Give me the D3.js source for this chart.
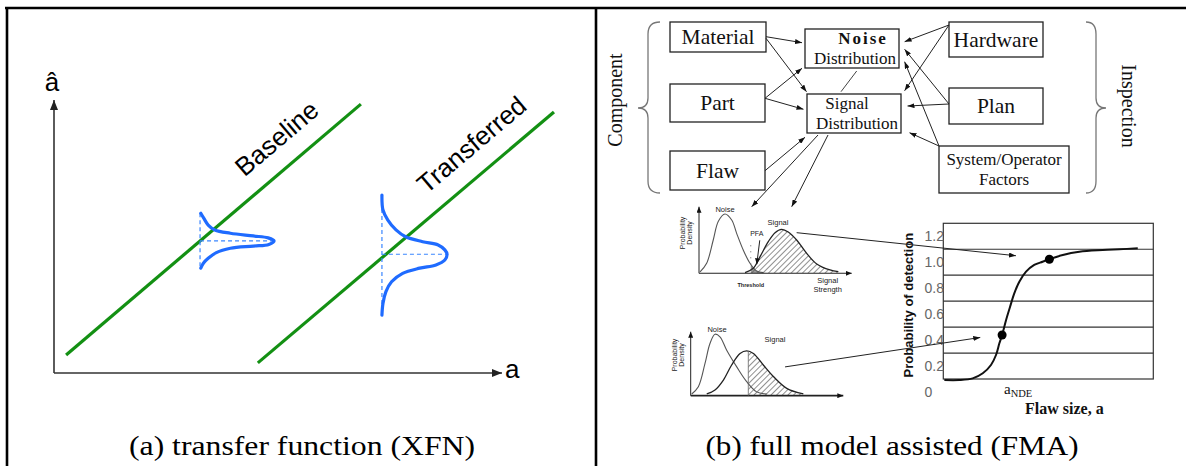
<!DOCTYPE html>
<html>
<head>
<meta charset="utf-8">
<script src="https://cdn.jsdelivr.net/npm/d3@7"></script>
<style>
  body { margin: 0; background: #fff; }
  svg { display: block; }
</style>
</head>
<body>
<svg id="fig" width="1186" height="466"></svg>
<script>
// ---------- data ----------
// (a) transfer function, a vs a-hat in arbitrary units
const baselineLine = [[2.7, 6.6], [68.5, 98.5]];
const transferredLine = [[45.5, 3.7], [111.6, 95.6]];
// response scatter around each line: [a-hat, relative density]
const baselineCenter = [32.6, 48.4];
const baselineDist = [[58.5,0.01],[56.7,0.05],[54.2,0.11],[52.4,0.2],[51.2,0.41],[50.2,0.72],[49.5,0.92],[48.4,1.0],
  [47.1,0.93],[46.5,0.72],[45.7,0.41],[44.1,0.22],[42.0,0.11],[40.2,0.045],[38.4,0.01]];
const transferredCenter = [73.2, 43.5];
const transferredDist = [[65.2,0],[59.7,0.014],[56.0,0.08],[52.4,0.19],[49.9,0.32],[48.1,0.55],[46.9,0.76],[45.1,0.85],
  [43.5,0.88],[41.4,0.85],[39.6,0.73],[38.4,0.51],[36.5,0.28],[33.4,0.13],[29.8,0.054],[25.5,0.014],[21.2,0]];

// (b) full model assisted
const componentFactors = ['Material', 'Part', 'Flaw'];
const inspectionFactors = ['Hardware', 'Plan', 'System/Operator|Factors'];
const distNodes = ['Noise|Distribution', 'Signal|Distribution'];

// signal strength vs probability density
const noiseTop = [[0.07,0.02],[0.51,0.15],[0.95,0.5],[1.29,0.78],[1.73,0.89],[2.18,0.8],[2.51,0.6],[2.95,0.35],[3.4,0.15],[3.84,0.035],[4.29,0.01]];
const signalTop = [[3.07,0.01],[3.62,0.075],[4.07,0.25],[4.62,0.475],[5.07,0.61],[5.51,0.66],[5.95,0.62],[6.51,0.5],[7.18,0.3],[7.85,0.14],[8.73,0.05],[9.29,0.025]];
const thresholdTop = 3.45;
const noiseBottom = [[0.07,0.027],[0.51,0.14],[0.95,0.5],[1.29,0.82],[1.62,0.96],[1.95,0.92],[2.4,0.71],[3.07,0.45],[3.73,0.22],[4.4,0.06],[5.07,0.027]];
const signalBottom = [[1.07,0.027],[1.62,0.09],[2.18,0.245],[2.73,0.48],[3.29,0.66],[3.73,0.7],[4.18,0.66],[4.84,0.48],[5.51,0.3],[6.4,0.115],[7.51,0.027]];
const thresholdBottom = 3.84;

// POD curve: flaw size vs probability of detection
const podCurve = [[0.05,0.092],[0.76,0.092],[1.40,0.105],[1.88,0.144],[2.27,0.208],[2.51,0.285],[2.67,0.375],[2.80,0.439],
  [2.99,0.555],[3.18,0.657],[3.38,0.76],[3.62,0.85],[3.94,0.927],[4.33,0.979],[4.73,1.004],[5.05,1.023],[5.69,1.056],
  [6.48,1.081],[7.59,1.094],[8.38,1.1],[9.26,1.107]];
const podMarks = [[2.80,0.439],[5.05,1.023]];
const podTicks = [0, 0.2, 0.4, 0.6, 0.8, 1.0, 1.2];
const podGrid = [0.3, 0.5, 0.7, 0.9, 1.1];

// ---------- setup ----------
const serif = '"Liberation Serif","Times New Roman",serif';
const sans = '"Liberation Sans",Arial,sans-serif';
const svg = d3.select('#fig');
const defs = svg.append('defs');

function marker(id, w, h, color) {
  defs.append('marker').attr('id', id)
    .attr('viewBox', `0 0 ${w} ${h}`).attr('refX', w).attr('refY', h / 2)
    .attr('markerWidth', w).attr('markerHeight', h)
    .attr('markerUnits', 'userSpaceOnUse').attr('orient', 'auto')
    .append('path').attr('d', `M0,0L${w},${h / 2}L0,${h}Z`).attr('fill', color);
}
marker('arrAxis', 10, 8, '#222');
marker('arrFlow', 7, 5, '#111');
marker('arrTiny', 6, 5, '#111');

const hatch = defs.append('pattern').attr('id', 'hatch')
  .attr('width', 4).attr('height', 4).attr('patternUnits', 'userSpaceOnUse')
  .attr('patternTransform', 'rotate(45)');
hatch.append('line').attr('x1', 0).attr('y1', 0).attr('x2', 0).attr('y2', 4)
  .attr('stroke', '#222').attr('stroke-width', 1);

function seg(g, p, q, opts = {}) {
  return g.append('line').attr('x1', p[0]).attr('y1', p[1]).attr('x2', q[0]).attr('y2', q[1])
    .attr('stroke', opts.color || '#111').attr('stroke-width', opts.w || 1)
    .attr('marker-end', opts.marker ? `url(#${opts.marker})` : null)
    .attr('stroke-dasharray', opts.dash || null);
}

// frame
const frame = svg.append('g');
seg(frame, [5, 8], [1186, 8], { color: '#000', w: 2.6 });
seg(frame, [7, 7], [7, 466], { color: '#000', w: 2.6 });
seg(frame, [596, 7], [596, 466], { color: '#000', w: 2.6 });

// ---------- (a) transfer function ----------
const gA = svg.append('g');
const xA = d3.scaleLinear().domain([0, 100]).range([54, 502]);
const yA = d3.scaleLinear().domain([0, 100]).range([373, 100]);
const densA = d3.scaleLinear().domain([0, 1]).range([0, 74]);

seg(gA, [xA(0), yA(0)], [xA(100), yA(0)], { color: '#333', w: 1.6, marker: 'arrAxis' });
seg(gA, [xA(0), yA(0)], [xA(0), yA(100)], { color: '#333', w: 1.6, marker: 'arrAxis' });
gA.append('text').attr('x', xA(100) + 3).attr('y', yA(0) + 5)
  .attr('font-family', sans).attr('font-size', 26).text('a');
gA.append('text').attr('x', xA(0) - 2).attr('y', 90.5).attr('text-anchor', 'middle')
  .attr('font-family', sans).attr('font-size', 26).text('â');

const lineA = d3.line().x(d => xA(d[0])).y(d => yA(d[1]));
const fits = [
  { name: 'Baseline', pts: baselineLine, t: 0.777 },
  { name: 'Transferred', pts: transferredLine, t: 0.784 }
];
fits.forEach(f => {
  gA.append('path').attr('d', lineA(f.pts)).attr('fill', 'none')
    .attr('stroke', '#139013').attr('stroke-width', 3.2);
  const p0 = [xA(f.pts[0][0]), yA(f.pts[0][1])], p1 = [xA(f.pts[1][0]), yA(f.pts[1][1])];
  const ang = Math.atan2(p1[1] - p0[1], p1[0] - p0[0]);
  const len = Math.hypot(p1[0] - p0[0], p1[1] - p0[1]);
  const ux = Math.cos(ang), uy = Math.sin(ang);
  const cx = p0[0] + ux * len * f.t + uy * 28.5, cy = p0[1] + uy * len * f.t - ux * 28.5;
  gA.append('text').attr('transform', `translate(${cx},${cy}) rotate(${ang * 180 / Math.PI})`)
    .attr('text-anchor', 'middle').attr('dy', '0.35em')
    .attr('font-family', sans).attr('font-size', 26).text(f.name);
});

const dists = [
  { c: baselineCenter, pts: baselineDist },
  { c: transferredCenter, pts: transferredDist }
];
dists.forEach(d => {
  const x0 = xA(d.c[0]);
  const topA = d3.max(d.pts, p => p[0]), botA = d3.min(d.pts, p => p[0]);
  const peak = d3.max(d.pts, p => p[1]);
  seg(gA, [x0, yA(topA)], [x0, yA(botA)], { color: '#3a86ff', w: 1.2, dash: '4,3' });
  seg(gA, [x0, yA(d.c[1])], [x0 + densA(peak), yA(d.c[1])], { color: '#3a86ff', w: 1.2, dash: '4,3' });
  gA.append('path')
    .attr('d', d3.line().x(p => x0 + densA(p[1])).y(p => yA(p[0])).curve(d3.curveCatmullRom.alpha(0.5))(d.pts))
    .attr('fill', 'none').attr('stroke', '#1f6bff').attr('stroke-width', 3.2).attr('stroke-linecap', 'round');
});

gA.append('text').attr('x', 302).attr('y', 455).attr('text-anchor', 'middle')
  .attr('textLength', 346).attr('lengthAdjust', 'spacingAndGlyphs')
  .attr('font-family', serif).attr('font-size', 28).text('(a) transfer function (XFN)');

// ---------- (b) full model assisted ----------
const gB = svg.append('g');

// box layout [x0, y0, x1, y1]
const boxPos = {
  'Material': [670, 22, 766, 52], 'Part': [670, 84, 765, 122], 'Flaw': [670, 151, 765, 190],
  'Noise|Distribution': [805, 29, 899, 68], 'Signal|Distribution': [807, 94, 901, 133],
  'Hardware': [949, 22, 1043, 57], 'Plan': [949, 88, 1043, 124], 'System/Operator|Factors': [939, 146, 1069, 193]
};
const lineShift = { 'Noise': 11, 'Signal': -7, 'Distribution': 3 };
const fontOf = name => name.includes('|') ? 17 : 21.5;
[...componentFactors, ...distNodes, ...inspectionFactors].forEach(name => {
  const b = boxPos[name];
  gB.append('rect').attr('x', b[0]).attr('y', b[1]).attr('width', b[2] - b[0]).attr('height', b[3] - b[1])
    .attr('fill', '#fff').attr('stroke', '#222').attr('stroke-width', 1.3);
  const lines = name.split('|');
  const fs = fontOf(name);
  const cx = (b[0] + b[2]) / 2, cy = (b[1] + b[3]) / 2;
  lines.forEach((ln, i) => {
    const y = cy + (i - (lines.length - 1) / 2) * fs * 1.18 + fs * 0.33;
    const t = gB.append('text').attr('x', cx + (lineShift[ln] || 0)).attr('y', y).attr('text-anchor', 'middle')
      .attr('font-family', serif).attr('font-size', fs).attr('fill', '#111').text(ln);
    if (ln === 'Noise') t.attr('font-weight', 'bold').attr('letter-spacing', 2);
  });
});

// influence links (from-point, to-point)
const links = [
  [[766, 36.7], [802, 42.7]], [[766, 38.3], [806.5, 91.7]],
  [[765, 98.3], [802, 68.3]], [[765, 98.3], [803.5, 109.3]],
  [[765, 170.7], [805, 137.3]],
  [[949, 25], [904.6, 41.7]], [[949, 25], [904.6, 90.7]],
  [[949, 104], [904.6, 49.3]], [[949, 104], [907.5, 106]],
  [[939, 146], [904.6, 61.7]], [[939, 146], [909.5, 132.7]],
  [[818, 135], [751.7, 206.7]], [[828, 135], [791.7, 206.7]]
];
links.forEach(l => seg(gB, l[0], l[1], { color: '#222', w: 1, marker: 'arrFlow' }));
seg(gB, [856.7, 71], [841, 91.7], { color: '#444', w: 1 });

// braces
gB.append('path').attr('d', 'M660,22Q648,22 648,34L648,98Q648,108 638,108Q648,108 648,118L648,181Q648,193 660,193')
  .attr('fill', 'none').attr('stroke', '#777').attr('stroke-width', 1.3);
gB.append('path').attr('d', 'M1086,22Q1096,22 1096,34L1096,98Q1096,108 1106,108Q1096,108 1096,118L1096,181Q1096,193 1086,193')
  .attr('fill', 'none').attr('stroke', '#777').attr('stroke-width', 1.3);
gB.append('text').attr('transform', 'translate(615,100) rotate(-90)').attr('text-anchor', 'middle')
  .attr('dy', '0.33em').attr('font-family', serif).attr('font-size', 20).attr('fill', '#111').text('Component');
gB.append('text').attr('transform', 'translate(1129,106) rotate(90)').attr('text-anchor', 'middle')
  .attr('dy', '0.33em').attr('font-family', serif).attr('font-size', 20).attr('fill', '#111').text('Inspection');

// small density charts
function densityChart(cfg) {
  const g = gB.append('g');
  const x = d3.scaleLinear().domain([0, 10]).range([cfg.ox, cfg.ox + 150]);
  const y = d3.scaleLinear().domain([0, 1]).range([cfg.oy, cfg.yTop]);
  const clipId = 'clip' + cfg.id;
  defs.append('clipPath').attr('id', clipId).append('rect')
    .attr('x', x(cfg.threshold)).attr('y', cfg.yTop - 10).attr('width', 200).attr('height', cfg.oy - cfg.yTop + 10);
  const area = d3.area().x(d => x(d[0])).y0(cfg.oy).y1(d => y(d[1])).curve(d3.curveCatmullRom.alpha(0.5));
  const line = d3.line().x(d => x(d[0])).y(d => y(d[1])).curve(d3.curveCatmullRom.alpha(0.5));
  g.append('path').attr('d', area(cfg.signal)).attr('fill', 'url(#hatch)').attr('clip-path', `url(#${clipId})`);
  if (cfg.pfa) g.append('path').attr('d', area(cfg.noise)).attr('fill', '#555').attr('opacity', 0.6).attr('clip-path', `url(#${clipId})`);
  g.append('path').attr('d', line(cfg.noise)).attr('fill', 'none').attr('stroke', '#555').attr('stroke-width', 1.1);
  g.append('path').attr('d', line(cfg.signal)).attr('fill', 'none').attr('stroke', '#222').attr('stroke-width', 1.3);
  seg(g, [x(0), cfg.oy], [cfg.xEnd, cfg.oy], { color: '#222', w: cfg.axisW, marker: 'arrTiny' });
  seg(g, [x(0), cfg.oy], [x(0), cfg.yTop], { color: '#222', w: 1, marker: 'arrTiny' });
  const small = (tx, ty, txt, fs, extra = {}) => {
    const t = g.append('text').attr('x', tx).attr('y', ty).attr('text-anchor', 'middle')
      .attr('font-family', sans).attr('font-size', fs).attr('fill', '#222').text(txt);
    if (extra.rot) t.attr('transform', `rotate(-90,${tx},${ty})`);
    if (extra.bold) t.attr('font-weight', 'bold');
    return t;
  };
  small(x(0) - 14, cfg.densY, 'Probability', 7, { rot: true });
  small(x(0) - 7, cfg.densY, 'Density', 7, { rot: true });
  small(cfg.noiseLbl[0], cfg.noiseLbl[1], 'Noise', 7.5);
  small(cfg.signalLbl[0], cfg.signalLbl[1], 'Signal', 7.5);
  if (cfg.pfa) {
    small(x(cfg.threshold) + 6, cfg.oy - 37, 'PFA', 7);
    seg(g, [x(cfg.threshold) + 9, cfg.oy - 33], [x(cfg.threshold) + 6, cfg.oy - 9], { color: '#222', w: 1, marker: 'arrTiny' });
    seg(g, [x(cfg.threshold), cfg.oy - 28], [x(cfg.threshold), cfg.oy], { color: '#666', w: 1, dash: '1,5' });
    small(x(cfg.threshold), cfg.oy + 14, 'Threshold', 5.5, { bold: true });
    small(cfg.xEnd - 24, cfg.oy + 9.5, 'Signal', 7.5);
    small(cfg.xEnd - 24, cfg.oy + 18.5, 'Strength', 7.5);
  } else {
    seg(g, [x(cfg.threshold), y(0.7)], [x(cfg.threshold), cfg.oy], { color: '#666', w: 0.8 });
  }
  return { x, y };
}
const topChart = densityChart({ id: 'T', ox: 699, oy: 273.3, yTop: 206.7, xEnd: 851.7, axisW: 1.1,
  noise: noiseTop, signal: signalTop, threshold: thresholdTop, pfa: true,
  densY: 233, noiseLbl: [725, 212], signalLbl: [778, 224.5] });
const bottomChart = densityChart({ id: 'B', ox: 690.7, oy: 395.7, yTop: 331.7, xEnd: 843.3, axisW: 1.8,
  noise: noiseBottom, signal: signalBottom, threshold: thresholdBottom, pfa: false,
  densY: 355, noiseLbl: [717, 332], signalLbl: [775, 342] });

// POD chart
const gP = gB.append('g');
const xP = d3.scaleLinear().domain([0, 10]).range([943.3, 1153.3]);
const yP = d3.scaleLinear().domain([0.1, 1.3]).range([379, 223.3]);
gP.append('rect').attr('x', xP(0)).attr('y', yP(1.3)).attr('width', xP(10) - xP(0)).attr('height', yP(0.1) - yP(1.3))
  .attr('fill', '#fff').attr('stroke', '#333').attr('stroke-width', 1.2);
podGrid.forEach(v => seg(gP, [xP(0), yP(v)], [xP(10), yP(v)], { color: '#333', w: 1.2 }));
podTicks.forEach(v => gP.append('text').attr('x', 924.5).attr('y', yP(v)).attr('dy', '0.36em')
  .attr('font-family', sans).attr('font-size', 14).attr('fill', '#666').text(v === 0 ? '0' : v.toFixed(1)));
gP.append('text').attr('transform', `translate(908.7,${(yP(0.1) + yP(1.3)) / 2 + 4}) rotate(-90)`)
  .attr('text-anchor', 'middle').attr('dy', '0.36em').attr('font-family', sans).attr('font-size', 13)
  .attr('font-weight', 'bold').attr('fill', '#111').text('Probability of detection');
gP.append('path')
  .attr('d', d3.line().x(d => xP(d[0])).y(d => yP(d[1])).curve(d3.curveCatmullRom.alpha(0.5))(podCurve))
  .attr('fill', 'none').attr('stroke', '#111').attr('stroke-width', 2);
gP.selectAll('circle').data(podMarks).join('circle')
  .attr('cx', d => xP(d[0])).attr('cy', d => yP(d[1])).attr('r', 4.5).attr('fill', '#000');
const aNde = gP.append('text').attr('x', 1004).attr('y', 394).attr('font-family', serif).attr('font-size', 15).attr('fill', '#111');
aNde.append('tspan').text('a');
aNde.append('tspan').attr('font-size', 10.5).attr('dy', 3).text('NDE');
gP.append('text').attr('x', 1025).attr('y', 414).attr('font-family', serif).attr('font-size', 16)
  .attr('font-weight', 'bold').attr('fill', '#111').text('Flaw size, a');

// arrows from the density charts to points on the POD curve
seg(gB, [topChart.x(6.51), topChart.y(0.61)], [xP(3.46), yP(1.05)], { color: '#222', w: 1, marker: 'arrFlow' });
seg(gB, [bottomChart.x(6.29), bottomChart.y(0.45)], [xP(1.76), yP(0.42)], { color: '#222', w: 1, marker: 'arrFlow' });

gB.append('text').attr('x', 892).attr('y', 455).attr('text-anchor', 'middle')
  .attr('textLength', 373).attr('lengthAdjust', 'spacingAndGlyphs')
  .attr('font-family', serif).attr('font-size', 28).text('(b) full model assisted (FMA)');
</script>
</body>
</html>
